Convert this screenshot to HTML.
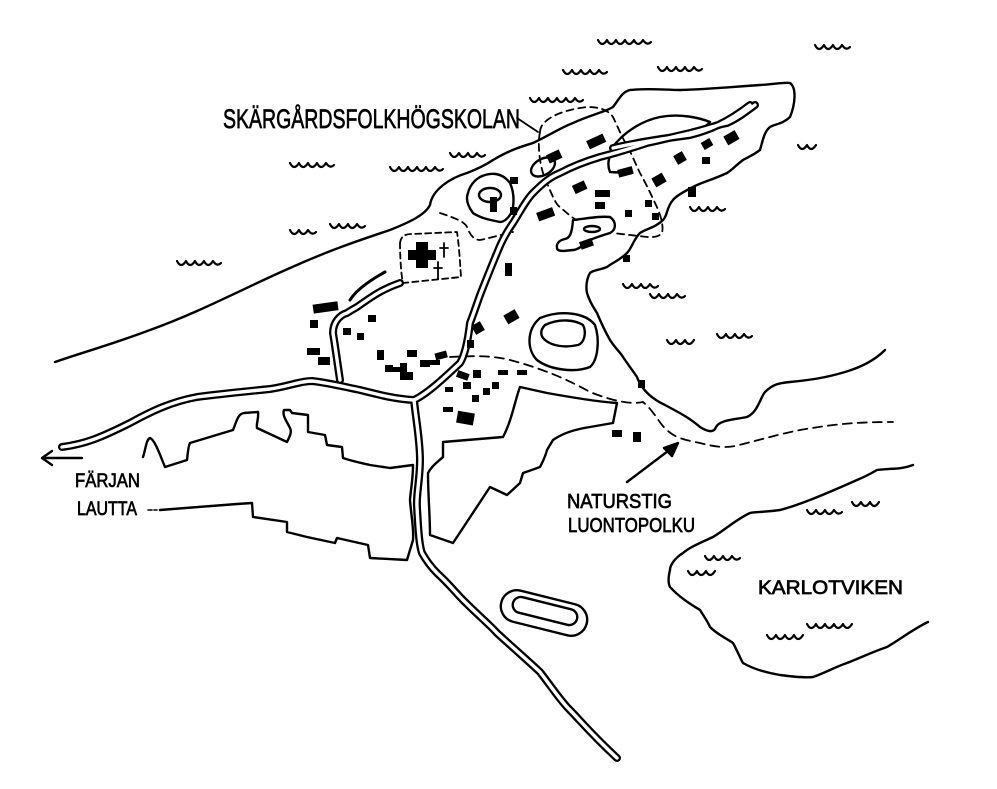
<!DOCTYPE html>
<html><head><meta charset="utf-8"><style>html,body{margin:0;padding:0;background:#fff}svg{display:block}</style></head>
<body>
<svg width="997" height="789" viewBox="0 0 997 789" xmlns="http://www.w3.org/2000/svg">
<g fill="none" stroke="#000" stroke-width="2.4" stroke-linecap="round" stroke-linejoin="round">
<path d="M55,362 C90,350 110,345 150,330 C200,312 240,290 290,268 C330,250 360,240 390,230 C410,222 425,215 430,205 C432,190 450,178 467,173 C480,168 490,162 493,160 C510,150 520,147 533,143 C550,135 560,128 573,123 C590,115 605,112 613,107 C620,98 622,92 630,90 C650,88 665,90 680,90 C710,89 730,87 760,85 C775,84 785,82 790,83 C797,88 795,105 790,117 C783,124 775,124 770,127 C764,132 763,140 760,150 C752,156 748,157 743,160 C735,166 732,170 727,173 C712,180 700,183 693,187 C683,192 676,196 673,200 C666,208 668,215 663,220 C655,228 645,229 640,233 C633,240 632,248 627,253 C620,260 612,263 607,267 C600,270 593,270 590,273 C586,280 586,288 587,293 C590,303 594,308 597,313 C602,325 606,333 610,340 C615,348 620,352 623,357 C629,366 633,371 637,377 C641,388 650,398 665,405 C678,412 690,418 700,427 C708,432 714,433 716,427 C720,420 732,420 747,417 C758,412 760,398 765,392 C772,385 778,383 790,382 C810,380 825,378 845,372 C862,367 875,360 885,350"/>
<path d="M143,457 C146,448 146,440 150,438 C155,440 160,455 165,467 L187,460 C188,452 188,447 190,443 L233,430 C237,420 238,414 244,413 L258,412 C259,418 256,424 257,428 L287,442 C290,436 292,432 290,428 C286,420 282,415 284,410 L290,410 L292,413 L308,415 L308,432 L325,435 L327,445 L342,447 L343,458 C355,462 362,463 370,465 L390,468 L413,465 C413,480 410,495 410,500 C411,515 414,528 413,540 L407,560 L370,558 L368,545 L337,538 L335,543 L307,537 L287,532 L287,522 L253,517 L252,503 L237,504 L160,510"/>
<path d="M148,510 L152,510 M154,510 L157,510" stroke-width="1.6"/>
<path d="M443,442 L503,437 C512,420 515,400 520,387 L547,393 C575,398 600,402 617,403 L613,423 L590,427 C570,430 560,435 553,440 L547,450 C545,458 542,463 540,467 C532,470 526,472 523,473 L520,483 L507,495 L490,487 C478,505 465,525 453,543 L430,535 C430,515 428,495 428,473 C432,465 440,460 443,457 Z" />
<path d="M913,465 C900,470 890,468 877,470 C870,474 862,478 857,480 C830,492 800,505 780,510 C765,512 755,512 750,513 C735,520 725,530 713,537 C700,543 690,547 683,553 C675,558 670,565 670,570 C668,578 668,583 670,587 C680,598 692,605 700,610 C705,618 708,622 710,627 C718,635 726,638 733,643 C738,652 740,658 743,663 C755,670 768,673 780,675 C795,677 805,678 813,677 C825,673 835,667 847,663 C862,657 875,651 887,647 C902,638 915,628 928,622"/>
<path d="M480,177 C490,172 502,172 510,183 C514,192 514,200 513,207 C512,215 505,222 500,222 C490,220 480,218 473,213 C467,205 466,198 468,193 C470,185 475,180 480,177 Z"/>
<ellipse cx="490" cy="195" rx="11" ry="7"/>
<ellipse cx="543" cy="167" rx="13" ry="8" transform="rotate(-30 543 167)"/>
<path d="M612,148 C625,130 645,120 660,117 C680,113 700,118 710,122 C705,128 695,132 690,135 C670,140 640,142 615,150 C608,155 607,165 610,172 L627,173"/>
<path d="M573,220 C590,218 600,216 610,217 C617,222 616,230 610,233 C600,236 597,237 590,240 C583,245 578,250 573,250 C565,251 557,252 557,248 C556,243 560,240 565,239 C570,238 572,233 573,220 Z"/>
<ellipse cx="592" cy="229" rx="8" ry="3"/>
<path d="M540,318 C560,310 585,312 595,325 C600,340 598,360 590,367 C575,373 550,370 537,360 C527,350 526,330 540,318 Z"/>
<path d="M545,325 C560,318 575,320 583,325 C587,333 584,343 578,345 C565,348 552,346 545,340 C540,336 540,330 545,325 Z"/>
<rect x="500" y="597" width="88" height="32" rx="16" transform="rotate(14 544 613)"/>
<rect x="512" y="603" width="66" height="16" rx="8" transform="rotate(14 545 611)"/>
<path d="M400,243 C401,236 405,234 412,234 L457,232 C459,245 460,262 461,277 L403,283 C401,275 400,255 400,243 Z" stroke-dasharray="6 4" stroke-width="1.8"/>
<path d="M444,243 L444,257 M440,248 L448,248 M438,262 L438,279 M434,268 L442,268" stroke-width="1.8"/>
<path d="M540,132 C540,120 560,110 587,107 C600,107 608,110 613,117 C617,125 620,133 625,142 C630,150 636,165 640,173 C645,182 650,192 655,203 C660,213 664,225 662,233 C658,238 650,237 647,237 L613,233 M540,132 C537,145 540,170 547,183 C552,195 556,205 560,207 C567,213 572,218 577,220" stroke-dasharray="7 5" stroke-width="1.8"/>
<path d="M440,213 C455,218 465,222 467,227 C470,235 474,240 480,240 C490,238 500,235 513,232" stroke-dasharray="7 5" stroke-width="1.8"/>
<path d="M517,118 L538,132" stroke-width="1.8"/>
<path d="M450,357 C470,356 490,355 510,360 C540,368 565,378 590,392 C610,400 630,405 643,402 C655,412 660,425 667,430 C675,438 685,440 700,443 C715,447 725,448 735,446 C760,440 775,435 800,430 C830,425 850,422 893,422" stroke-dasharray="9 6" stroke-width="1.8"/>
<path d="M627,482 L672,448"/>
<path d="M678,443 L664,448 L672,456 Z" fill="#000"/>
<g stroke-width="8">
<path id="r1" d="M62,447 C85,444 100,438 130,423 C150,412 170,402 197,397 C220,394 240,392 270,389 C290,386 300,381 312,381 C330,383 345,387 360,390 C380,395 395,399 414,400 C425,395 440,382 460,363 C465,355 468,340 470,323 C475,310 478,300 482,290 C488,275 492,265 497,253 C502,240 508,230 513,223 C520,212 526,200 533,193 C543,183 550,177 560,173 C575,165 590,160 600,157 C620,152 635,147 647,143 C670,138 680,135 690,133 C710,128 720,124 727,123 C738,118 747,111 755,105"/>
<path id="r2" d="M414,400 C416,420 420,440 420,460 C420,480 416,495 417,507 C418,525 419,545 422,553 C427,562 432,568 437,573 C450,585 455,592 463,600 C480,617 490,625 497,633 C510,645 525,658 540,672 C550,685 558,697 567,707 C580,720 590,733 617,758"/>
<path id="r3" d="M613,148 C640,142 660,139 690,135 C710,130 728,122 750,105"/>
<path id="r4" d="M340,380 C337,360 335,345 333,333 C333,322 340,315 347,313 C350,311 357,307 357,307 C370,298 380,290 400,283"/>
</g>
<g stroke="#fff" stroke-width="3.4">
<use href="#r1"/><use href="#r2"/><use href="#r3"/><use href="#r4"/>
</g>
<path d="M350,300 C355,292 365,283 385,272" stroke-width="3"/>
<path d="M42,458 L82,458 M42,458 L52,451 M42,458 L52,465"/>
<g stroke-width="2.2">
<path d="M563,70 q4,8 9,0 q4,8 9,0 q4,8 9,0 q4,8 9,0 q4,6 8,2"/>
<path d="M598,40 q4,8 9,0 q4,8 9,0 q4,8 9,0 q4,8 9,0 q4,8 9,0 q4,6 8,2"/>
<path d="M658,67 q4,8 9,0 q4,8 9,0 q4,8 9,0 q4,8 9,0 q4,6 8,2"/>
<path d="M815,45 q4,8 9,0 q4,8 9,0 q4,8 9,0 q4,6 8,2"/>
<path d="M798,145 q4,8 9,0 q4,8 9,0"/>
<path d="M530,98 q4,8 9,0 q4,8 9,0 q4,8 9,0 q4,8 9,0 q4,8 9,0 q4,6 8,2"/>
<path d="M290,163 q4,8 9,0 q4,8 9,0 q4,8 9,0 q4,8 9,0 q4,6 8,2"/>
<path d="M390,167 q4,8 9,0 q4,8 9,0 q4,8 9,0 q4,8 9,0 q4,8 9,0 q4,6 8,2"/>
<path d="M450,153 q4,8 9,0 q4,8 9,0 q4,8 9,0 q4,6 8,2"/>
<path d="M290,230 q4,8 9,0 q4,8 9,0 q4,6 8,2"/>
<path d="M330,224 q4,8 9,0 q4,8 9,0 q4,8 9,0 q4,6 8,2"/>
<path d="M177,261 q4,8 9,0 q4,8 9,0 q4,8 9,0 q4,8 9,0 q4,6 8,2"/>
<path d="M690,207 q4,8 9,0 q4,8 9,0 q4,8 9,0 q4,6 8,2"/>
<path d="M623,284 q4,8 9,0 q4,8 9,0 q4,8 9,0 q4,6 8,2"/>
<path d="M650,294 q4,8 9,0 q4,8 9,0 q4,8 9,0 q4,6 8,2"/>
<path d="M667,340 q4,8 9,0 q4,8 9,0 q4,8 9,0"/>
<path d="M717,334 q4,8 9,0 q4,8 9,0 q4,8 9,0 q4,6 8,2"/>
<path d="M807,510 q4,8 9,0 q4,8 9,0 q4,8 9,0 q4,6 8,2"/>
<path d="M852,502 q4,8 9,0 q4,8 9,0 q4,8 9,0"/>
<path d="M705,556 q4,8 9,0 q4,8 9,0 q4,8 9,0 q4,6 8,2"/>
<path d="M688,571 q4,8 9,0 q4,8 9,0 q4,8 9,0"/>
<path d="M767,635 q4,8 9,0 q4,8 9,0 q4,8 9,0 q4,8 9,0"/>
<path d="M807,624 q4,8 9,0 q4,8 9,0 q4,8 9,0 q4,8 9,0 q4,8 9,0"/>
</g>
</g>
<g fill="#000">
<rect x="547" y="152" width="14" height="9" transform="rotate(-25 554 156)"/>
<rect x="587" y="137" width="18" height="9" transform="rotate(-25 596 141)"/>
<rect x="510" y="177" width="8" height="7"/>
<rect x="490" y="197" width="7" height="15"/>
<rect x="510" y="207" width="7" height="8"/>
<rect x="537" y="210" width="17" height="9" transform="rotate(-20 545 214)"/>
<rect x="573" y="183" width="13" height="9" transform="rotate(-25 579 187)"/>
<rect x="595" y="190" width="15" height="7"/>
<rect x="595" y="202" width="10" height="7"/>
<rect x="618" y="168" width="15" height="8" transform="rotate(-15 625 172)"/>
<rect x="653" y="175" width="12" height="10" transform="rotate(-30 659 180)"/>
<rect x="675" y="153" width="10" height="10" transform="rotate(-30 680 158)"/>
<rect x="702" y="140" width="10" height="8" transform="rotate(-30 707 144)"/>
<rect x="725" y="133" width="13" height="10" transform="rotate(-30 731 138)"/>
<rect x="702" y="157" width="8" height="7"/>
<rect x="625" y="210" width="7" height="7"/>
<rect x="645" y="200" width="7" height="7"/>
<rect x="652" y="213" width="7" height="7"/>
<rect x="688" y="187" width="8" height="10"/>
<rect x="623" y="255" width="7" height="7"/>
<rect x="580" y="240" width="13" height="8" transform="rotate(-20 586 244)"/>
<rect x="505" y="263" width="7" height="13"/>
<rect x="313" y="303" width="25" height="9" transform="rotate(-8 325 307)"/>
<rect x="310" y="320" width="8" height="8"/>
<rect x="368" y="315" width="8" height="7"/>
<rect x="343" y="328" width="8" height="7"/>
<rect x="357" y="333" width="7" height="7"/>
<rect x="505" y="312" width="13" height="10" transform="rotate(-30 511 317)"/>
<rect x="473" y="323" width="10" height="10" transform="rotate(-30 478 328)"/>
<rect x="467" y="340" width="7" height="8"/>
<rect x="377" y="350" width="7" height="10"/>
<rect x="307" y="348" width="13" height="7"/>
<rect x="318" y="357" width="12" height="8"/>
<rect x="407" y="350" width="10" height="7"/>
<rect x="420" y="360" width="10" height="7"/>
<rect x="435" y="352" width="12" height="7" transform="rotate(-15 441 355)"/>
<rect x="385" y="365" width="8" height="7"/>
<path d="M400,363 L407,363 L407,372 L413,372 L413,380 L400,380 Z"/>
<rect x="498" y="370" width="10" height="5"/>
<rect x="638" y="380" width="7" height="8"/>
<rect x="392" y="367" width="8" height="5"/>
<rect x="430" y="360" width="10" height="5"/>
<rect x="445" y="387" width="8" height="5"/>
<rect x="457" y="372" width="12" height="7" transform="rotate(20 463 375)"/>
<rect x="463" y="382" width="8" height="7"/>
<rect x="473" y="370" width="8" height="8"/>
<rect x="472" y="395" width="7" height="7"/>
<rect x="483" y="388" width="7" height="7"/>
<rect x="492" y="382" width="7" height="7"/>
<rect x="443" y="407" width="10" height="5"/>
<rect x="457" y="412" width="17" height="12" transform="rotate(10 465 418)"/>
<rect x="517" y="370" width="10" height="5"/>
<rect x="612" y="430" width="10" height="7"/>
<rect x="633" y="432" width="8" height="10"/>
<path d="M408,250 L416,250 L416,242 L428,242 L428,250 L436,250 L436,260 L428,260 L428,268 L416,268 L416,260 L408,260 Z"/>
</g>
<g font-family="'Liberation Sans', sans-serif" fill="#000" stroke="#000" stroke-width="0.7">
<text x="223" y="128" font-size="27" textLength="297" lengthAdjust="spacingAndGlyphs">SKÄRGÅRDSFOLKHÖGSKOLAN</text>
<text x="75" y="487" font-size="19" textLength="65" lengthAdjust="spacingAndGlyphs">FÄRJAN</text>
<text x="77" y="515" font-size="19" textLength="60" lengthAdjust="spacingAndGlyphs">LAUTTA</text>
<text x="567" y="508" font-size="20" textLength="105" lengthAdjust="spacingAndGlyphs">NATURSTIG</text>
<text x="568" y="532" font-size="20" textLength="127" lengthAdjust="spacingAndGlyphs">LUONTOPOLKU</text>
<text x="758" y="594" font-size="19" textLength="145" lengthAdjust="spacingAndGlyphs">KARLOTVIKEN</text>
</g>
</svg>
</body></html>
